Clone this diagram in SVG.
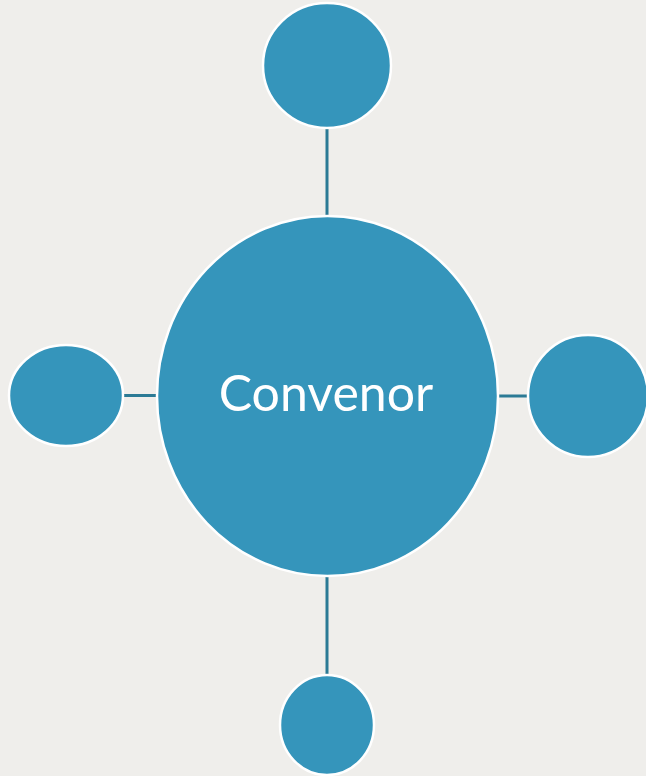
<svg xmlns="http://www.w3.org/2000/svg" width="646" height="776" viewBox="0 0 646 776">
<style>
.node{fill:#3595bb;stroke:#ffffff;stroke-width:2.5}
.conn{stroke:#2b7a95;stroke-width:3;fill:none}
.label{font-family:Lato,"Open Sans",sans-serif;font-size:50px;fill:#ffffff;text-anchor:middle}
</style>
<rect width="646" height="776" fill="#efeeeb"/>
<g id="connectors">
<line class="conn" x1="327" y1="129" x2="327" y2="216"/>
<line class="conn" x1="327" y1="576" x2="327" y2="675"/>
<line class="conn" x1="123" y1="395.5" x2="157" y2="395.5"/>
<line class="conn" x1="498" y1="396" x2="528" y2="396"/>
</g>
<g id="node-top"><ellipse class="node" cx="327" cy="65.5" rx="64" ry="62.5"/></g>
<g id="node-left"><ellipse class="node" cx="66" cy="395.5" rx="57" ry="50.5"/></g>
<g id="node-right"><ellipse class="node" cx="588" cy="396" rx="60" ry="61"/></g>
<g id="node-bottom"><ellipse class="node" cx="327" cy="725" rx="47" ry="50"/></g>
<g id="node-center"><ellipse class="node" cx="327.5" cy="396" rx="170.5" ry="180"/>
<text class="label" x="326" y="411">Convenor</text></g>
</svg>
